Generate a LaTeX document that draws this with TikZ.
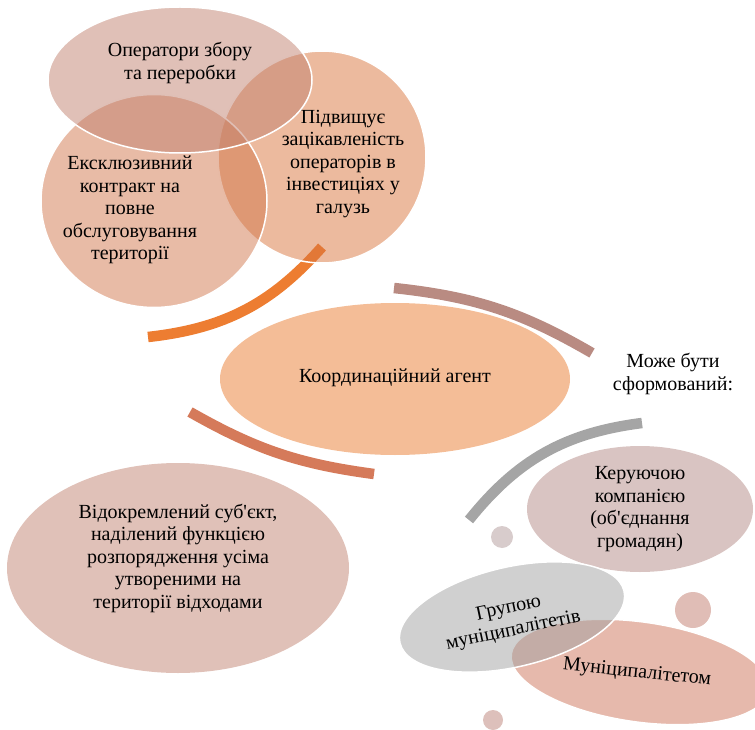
\documentclass[tikz,border=0pt]{standalone}
\usepackage{fontspec}
\newfontfamily\serifx{Liberation Serif}[Ligatures=TeXOff]
\setmainfont{Liberation Serif}
\usetikzlibrary{shapes.geometric}
\definecolor{fTop}{RGB}{193,129,111}
\definecolor{fLeft}{RGB}{209,119,77}
\definecolor{fRight}{RGB}{217,117,61}
\definecolor{cCentral}{RGB}{244,189,151}
\definecolor{cKer}{RGB}{217,196,194}
\definecolor{cBig}{RGB}{224,193,184}
\definecolor{fGrey}{RGB}{161,161,161}
\definecolor{fSalmon}{RGB}{205,115,89}
\definecolor{aOrange}{RGB}{237,125,49}
\definecolor{aMauve}{RGB}{185,139,130}
\definecolor{aTerra}{RGB}{213,122,90}
\definecolor{aGrey}{RGB}{165,165,165}
\definecolor{dotA}{RGB}{216,204,204}
\definecolor{dotB}{RGB}{224,189,182}
\definecolor{dotC}{RGB}{221,192,187}
\begin{document}
\begin{tikzpicture}[x=1pt,y=1pt,
  blob/.style={ellipse, inner sep=0pt, draw=white, line width=1.5pt},
  solidblob/.style={ellipse, inner sep=0pt, draw=none},
  half/.style={fill opacity=0.5, draw opacity=1},
  txt/.style={align=center, inner sep=0pt, text=black, font=\serifx\fontsize{20}{22.5}\selectfont},
  band/.style={line width=10.5pt}]
\useasboundingbox (0,0) rectangle (755,-730);

% arcs
\coordinate (o1) at (148,-337); \coordinate (o2) at (322,-247);
\coordinate (m1) at (394,-288); \coordinate (m2) at (592,-353);
\coordinate (t1) at (190,-412); \coordinate (t2) at (374,-474);
\coordinate (g1) at (469,-520); \coordinate (g2) at (642,-423);
\draw[band, aOrange] (o1) to[bend right=21] (o2);
\draw[band, aMauve] (m1) to[bend left=12] (m2);
\draw[band, aTerra] (t1) to[bend right=11] (t2);
\draw[band, aGrey] (g1) to[bend left=22] (g2);

% Venn group
\node[blob, half, fill=fRight, minimum width=208, minimum height=212] (rc) at (322,-157) {};
\node[blob, half, fill=fLeft, minimum width=226, minimum height=213] (lc) at (154,-201) {};
\node[blob, half, fill=fTop, minimum width=264, minimum height=146] (tc) at (180,-80) {};
\node[txt] (tct) at (180,-63) {Оператори збору\\та переробки};
\node[txt] (lct) at (130,-210) {Ексклюзивний\\контракт на\\повне\\обслуговування\\території};
\node[txt] (rct) at (343,-164) {Підвищує\\зацікавленість\\операторів в\\інвестиціях у\\галузь};

% central
\node[solidblob, fill=cCentral, minimum width=350, minimum height=152] (cen) at (395,-379) {};
\node[txt] (cent) at (395,-378) {Координаційний агент};

% big bottom-left
\node[solidblob, fill=cBig, minimum width=342, minimum height=210] (big) at (178,-568) {};
\node[txt] (bigt) at (178,-558) {Відокремлений суб'єкт,\\наділений функцією\\розпорядження усіма\\утвореними на\\території відходами};

% label
\node[txt] (lab) at (673,-374) {Може бути\\сформований:};

% managing company
\node[solidblob, fill=cKer, minimum width=226, minimum height=126] (ker) at (640,-509) {};
\node[txt] (kert) at (640,-509) {Керуючою\\компанією\\(об'єднання\\громадян)};

% dots
\node[circle, inner sep=0pt, fill=dotA, minimum size=22] (d1) at (502,-537) {};
\node[circle, inner sep=0pt, fill=dotB, minimum size=36] (d2) at (693,-610) {};
\node[circle, inner sep=0pt, fill=dotC, minimum size=20] (d3) at (493,-720) {};

% municipalities
\node[blob, half, fill=fSalmon, minimum width=260, minimum height=100, rotate=-8] (mun) at (640,-672) {};
\node[blob, half, fill=fGrey, minimum width=230, minimum height=100, rotate=13] (grp) at (512,-617) {};
\node[txt, rotate=12] (grpt) at (511,-620) {Групою\\муніципалітетів};
\node[txt, rotate=-6] (munt) at (637,-673) {Муніципалітетом};
\end{tikzpicture}
\end{document}
